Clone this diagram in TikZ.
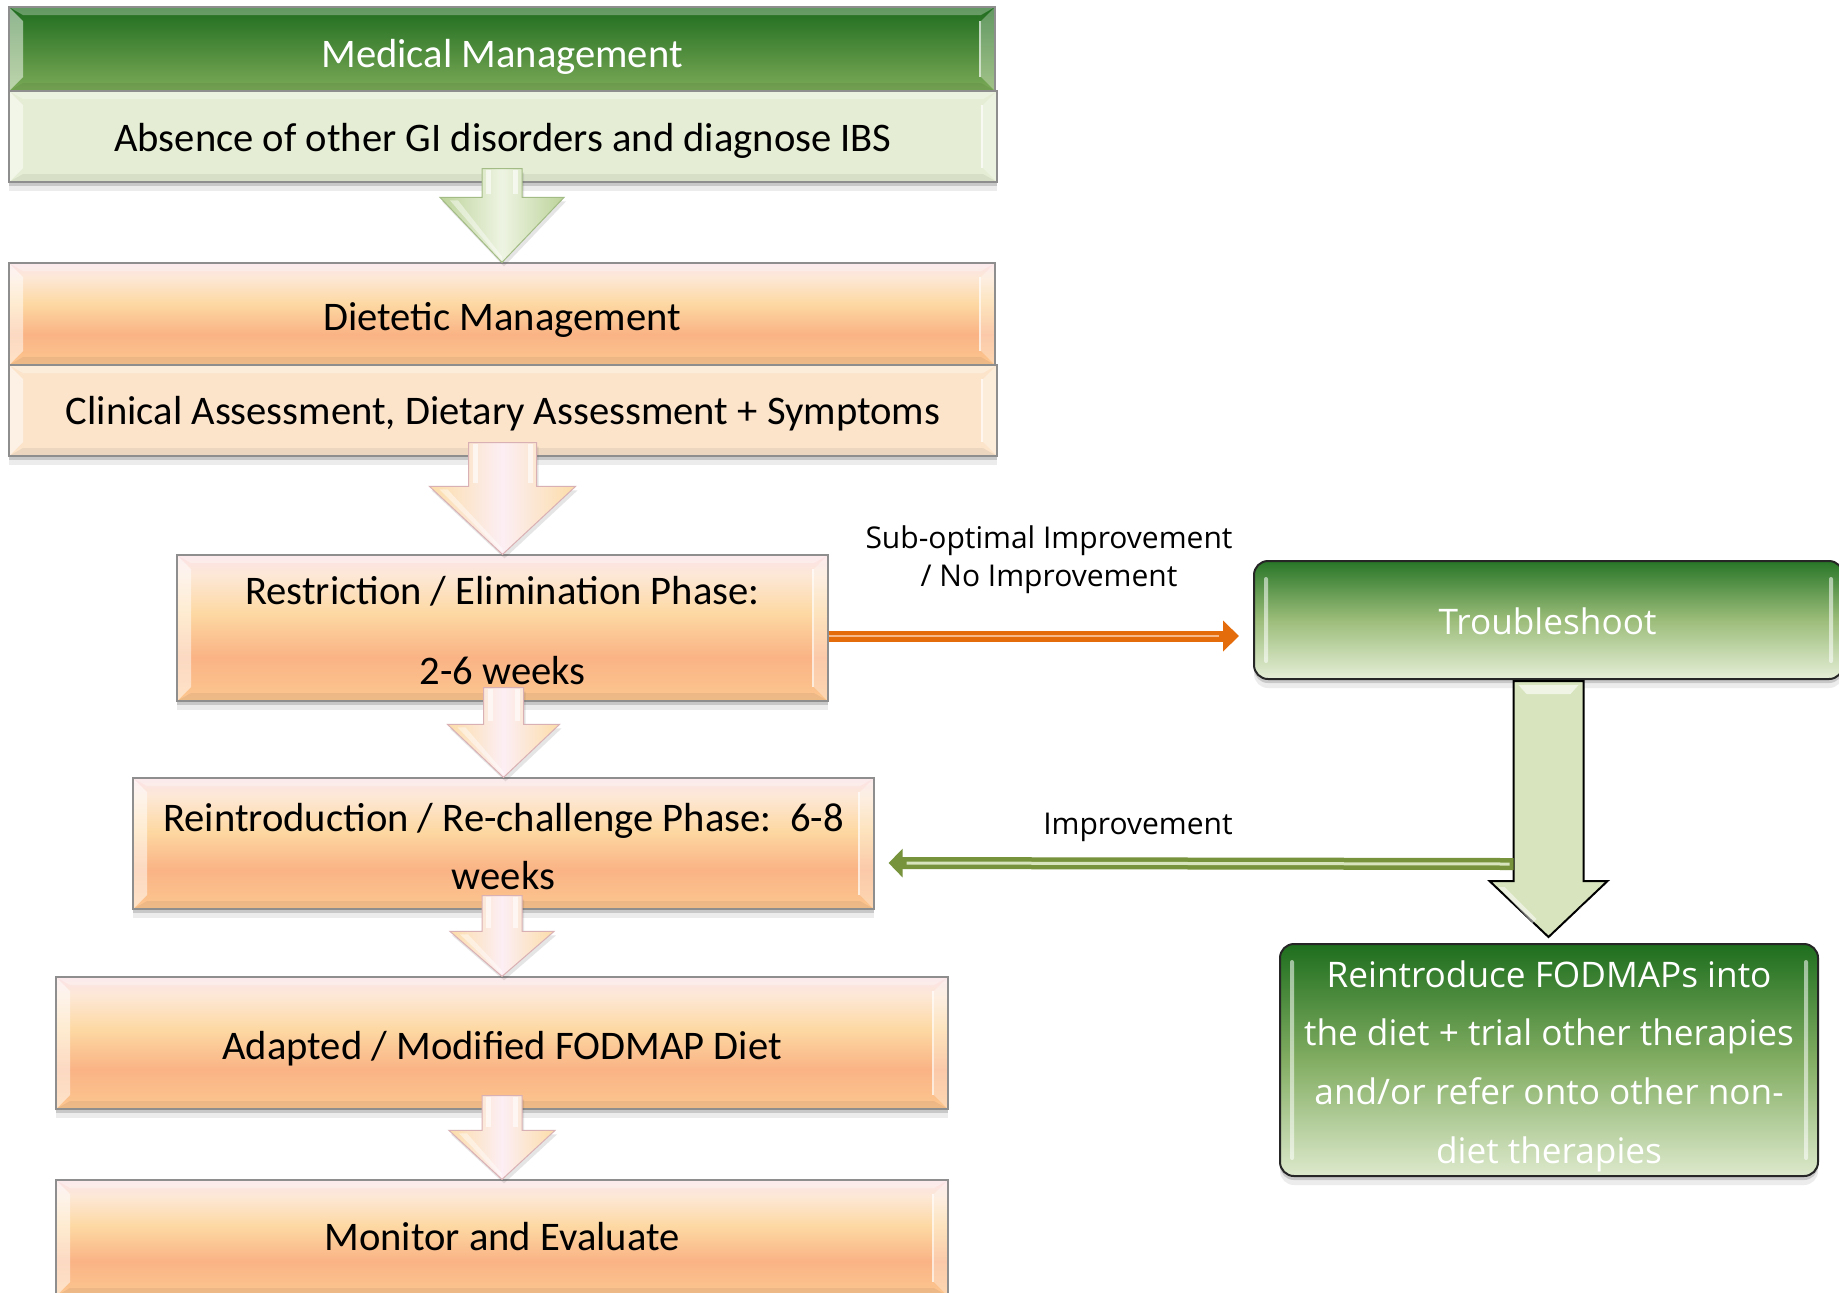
\documentclass[tikz,border=0pt]{standalone}
\usepackage{fontspec}
\setmainfont{Carlito}
\newfontfamily\segoe{Open Sans}
\usetikzlibrary{calc,shadows,arrows.meta}

\definecolor{hdrTop}{HTML}{1F6C1F}
\definecolor{hdrBot}{HTML}{7BAA57}
\definecolor{paleGreen}{HTML}{E5EDD4}
\definecolor{peach}{HTML}{FCE4CB}
\definecolor{orBot}{HTML}{FCC790}
\definecolor{orLow}{HTML}{FAB385}
\definecolor{orMid}{HTML}{FDD8A2}
\definecolor{orHigh}{HTML}{FDE8D6}
\definecolor{orTop}{HTML}{FBE2E6}
\definecolor{boxLine}{HTML}{8E8E8E}
\definecolor{tipOrange}{HTML}{E46C0A}
\definecolor{tipOrangeLight}{HTML}{F6B98A}
\definecolor{olive}{HTML}{77933C}
\definecolor{oliveLight}{HTML}{D7E4BD}
\definecolor{arrowCream}{HTML}{FCDDA8}
\definecolor{arrowPink}{HTML}{FCEEF4}
\definecolor{arrowLine}{HTML}{D9B0B4}
\definecolor{arrowGreen}{HTML}{BCD39A}
\definecolor{arrowGreenLight}{HTML}{EEF4E2}
\definecolor{arrowGreenLine}{HTML}{A3BC85}
\definecolor{glassTop}{HTML}{287628}
\definecolor{glassMid}{HTML}{9CBD7A}
\definecolor{glassBot}{HTML}{E5EED7}
\definecolor{fodTop}{HTML}{1E6E1E}
\definecolor{fodMid}{HTML}{82AD62}
\definecolor{fodBot}{HTML}{DDE9CC}

% warm vertical gradient of the phase boxes (25bp = bottom edge, 75bp = top edge)
\pgfdeclareverticalshading{peachglow}{100bp}{color(0bp)=(orBot); color(25bp)=(orBot);
  color(40bp)=(orLow); color(55bp)=(orMid); color(68bp)=(orHigh); color(75bp)=(orTop); color(100bp)=(orTop)}

\tikzset{
  boxshadow/.style={
    drop shadow={shadow xshift=0pt, shadow yshift=-2pt, opacity=0.22, fill=black!70},
    drop shadow={shadow xshift=0pt, shadow yshift=-4.5pt, opacity=0.10, fill=black!70}},
  bevel/.style={path picture={
    \coordinate (bNW) at (path picture bounding box.north west);
    \coordinate (bNE) at (path picture bounding box.north east);
    \coordinate (bSW) at (path picture bounding box.south west);
    \coordinate (bSE) at (path picture bounding box.south east);
    \fill[white,opacity=0.5] (bNW) -- ([shift={(7pt,-7pt)}]bNW) -- ([shift={(7pt,7pt)}]bSW) -- (bSW) -- cycle;
    \fill[white,opacity=0.3] (bNE) -- ([shift={(-7pt,-7pt)}]bNE) -- ([shift={(-7pt,7pt)}]bSE) -- (bSE) -- cycle;
    \draw[white,opacity=0.7,line width=1.2pt] ([shift={(-7.5pt,-7pt)}]bNE) -- ([shift={(-7.5pt,7pt)}]bSE);
    \fill[white,opacity=0.30] (bNW) -- (bNE) -- ([shift={(-7pt,-4pt)}]bNE) -- ([shift={(7pt,-4pt)}]bNW) -- cycle;
    \fill[black,opacity=0.06] (bSW) -- (bSE) -- ([shift={(-7pt,4pt)}]bSE) -- ([shift={(7pt,4pt)}]bSW) -- cycle;
  }},
  bevelbox/.style={draw=boxLine, line width=0.6pt, inner sep=0pt, boxshadow, bevel},
  phasebox/.style={bevelbox, shade, shading=peachglow},
  glassbox/.style={draw=black!85, line width=1pt, rounded corners=7pt, inner sep=0pt, boxshadow,
    path picture={
      \coordinate (gNW) at (path picture bounding box.north west);
      \coordinate (gNE) at (path picture bounding box.north east);
      \coordinate (gSW) at (path picture bounding box.south west);
      \coordinate (gSE) at (path picture bounding box.south east);
      \fill[white,opacity=0.55,rounded corners=1pt] ([shift={(5pt,-8pt)}]gNW) rectangle ([shift={(7pt,8pt)}]gSW);
      \fill[white,opacity=0.55,rounded corners=1pt] ([shift={(-7pt,-8pt)}]gNE) rectangle ([shift={(-5pt,8pt)}]gSE);
    }},
  boxtext/.style={inner sep=0pt, align=center, font=\fontsize{20.3}{24}\selectfont},
  glasstext/.style={inner sep=0pt, align=center, text=white, font=\segoe\fontsize{17.6}{29.3}\selectfont},
  arrowshadow/.style={drop shadow={shadow xshift=1pt, shadow yshift=-2pt, opacity=0.14, fill=black!70}},
  creamarrow/.style={arrowshadow, left color=arrowCream, right color=arrowCream, middle color=arrowPink,
    draw=arrowLine, line width=0.5pt},
  greenarrow/.style={arrowshadow, left color=arrowGreen, right color=arrowGreen, middle color=arrowGreenLight,
    draw=arrowGreenLine, line width=0.5pt},
  shine/.style={fill=white, opacity=0.6},
  lbl/.style={font=\segoe\fontsize{15}{19}\selectfont, align=center, inner sep=0pt},
}

% block arrow pointing down from node #1 into node #2
% #3 shaft half width, #4 head half width, #5 head length, #6 style
\newcommand\stepArrow[6]{%
  \path[#6] ($(#2.north |- #1.south)+(-#3,-14)$) -- ($(#2.north)+(-#3,-#5)$) -- ($(#2.north)+(-#4,-#5)$)
    -- (#2.north) -- ($(#2.north)+(#4,-#5)$) -- ($(#2.north)+(#3,-#5)$)
    -- ($(#2.north |- #1.south)+(#3,-14)$) -- cycle;
  \fill[shine] ($(#2.north |- #1.south)+(-#3+4,-13)$) rectangle ($(#2.north)+(-#3+9,-#5-3)$);
  \fill[shine] ($(#2.north |- #1.south)+(#3-9,-13)$) rectangle ($(#2.north)+(#3-4,-#5-3)$);
  \fill[shine, opacity=0.45] ($(#2.north)+(-#4+10,-#5+3)$) -- ($(#2.north)+(-#4+18,-#5+3)$)
    -- ($(#2.north)+(0,-6)$) -- ($(#2.north)+(0,-2)$) -- cycle;}

\begin{document}
\begin{tikzpicture}[x=0.5pt,y=-0.5pt]
\useasboundingbox (0,0) rectangle (1839,1292);
\fill[white] (0,0) rectangle (1839,1292);

% left column boxes
\node[bevelbox, top color=hdrTop, bottom color=hdrBot, minimum width=493pt, minimum height=42pt] (med) at (502,49) {};
\node[bevelbox, fill=paleGreen, minimum width=494pt, minimum height=45.5pt] (abs) at (503,136.5) {};
\node[phasebox, minimum width=493pt, minimum height=51pt] (diet) at (502,314) {};
\node[bevelbox, fill=peach, minimum width=494pt, minimum height=45.5pt] (clin) at (503,410.5) {};
\node[phasebox, minimum width=325.5pt, minimum height=73pt] (restr) at (502.5,628) {};
\node[phasebox, minimum width=370.5pt, minimum height=65.5pt] (reint) at (503.5,843.5) {};
\node[phasebox, minimum width=446pt, minimum height=66pt] (adapt) at (502,1043) {};
\node[phasebox, minimum width=446pt, minimum height=58pt] (monit) at (502,1238) {};

% left column texts
\node[boxtext, text=white] (med-t) at ($(med)+(0,8)$) {Medical Management};
\node[boxtext] (abs-t) at ($(abs)+(0,4.5)$) {Absence of other GI disorders and diagnose IBS};
\node[boxtext] (diet-t) at ($(diet)+(0,6)$) {Dietetic Management};
\node[boxtext] (clin-t) at ($(clin)+(0,3.5)$) {Clinical Assessment, Dietary Assessment + Symptoms};
\node[boxtext] (restr-t) at ($(restr)+(0,2.5)$) {Restriction / Elimination Phase:\\[16pt]2-6 weeks};
\node[boxtext, font=\fontsize{20.3}{29}\selectfont] (reint-t) at ($(reint)+(0,3.5)$) {Reintroduction / Re-challenge Phase:\ \ 6-8\\weeks};
\node[boxtext] (adapt-t) at ($(adapt)+(0,6)$) {Adapted / Modified FODMAP Diet};
\node[boxtext] (monit-t) at ($(monit)+(0,-1)$) {Monitor and Evaluate};

\stepArrow{abs}{diet}{20}{62}{65}{greenarrow}
\stepArrow{clin}{restr}{34}{73}{68}{creamarrow}
\stepArrow{restr}{reint}{20}{56}{53}{creamarrow}
\stepArrow{reint}{adapt}{20}{52}{45}{creamarrow}
\stepArrow{adapt}{monit}{20}{53}{49}{creamarrow}

% right column
\node[glassbox, top color=glassTop, bottom color=glassBot, middle color=glassMid, minimum width=294.5pt, minimum height=59pt] (trouble) at (1548.5,620) {};
\node[glassbox, top color=fodTop, bottom color=fodBot, middle color=fodMid, minimum width=269pt, minimum height=116pt] (fod) at (1549,1060) {};
\node[glasstext] (trouble-t) at ($(trouble)+(-1,1.5)$) {Troubleshoot};
\node[glasstext] (fod-t) at ($(fod)+(0,6)$)
  {Reintroduce FODMAPs into\\the diet + trial other therapies\\and/or refer onto other non-\\diet therapies};

% wide arrow from Troubleshoot down to the therapies box
\coordinate (dtip) at ($(trouble.south |- fod.north)+(0,-6)$);
\coordinate (dshaftL) at ($(trouble.south)+(-35,184)$);
\path[fill=oliveLight, draw=black, line width=1pt, line join=miter]
  ($(trouble.south)+(-35,1)$) -- ($(trouble.south)+(35,1)$) -- ($(dtip)+(35,-56)$) -- ($(dtip)+(59,-56)$)
  -- (dtip) -- ($(dtip)+(-59,-56)$) -- ($(dtip)+(-35,-56)$) -- cycle;
\fill[white,opacity=0.6] ($(trouble.south)+(-30,5)$) -- ($(trouble.south)+(30,5)$) -- ($(trouble.south)+(22,14)$) -- ($(trouble.south)+(-22,14)$) -- cycle;
\fill[white,opacity=0.5] ($(dtip)+(-50,-50)$) -- ($(dtip)+(-44,-50)$) -- ($(dtip)+(-12,-18)$) -- ($(dtip)+(-16,-14)$) -- cycle;
\fill[white,opacity=0.5] ($(dtip)+(30,-28)$) -- ($(dtip)+(46,-40)$) -- ($(dtip)+(44,-36)$) -- cycle;

% feedback connectors
\draw[line width=5.5pt, tipOrange, -{Triangle[width=15pt,length=8pt]}]
  ($(restr.east)+(0,8)$) -- ($(trouble.west)+(-14,16)$);
\draw[line width=1.4pt, tipOrangeLight, shorten >=10pt]
  ($(restr.east)+(0,8)$) -- ($(trouble.west)+(-14,16)$);
\draw[line width=6pt, olive, -{Triangle[width=14pt,length=7pt]}]
  (dshaftL) -- ($(reint.east)+(14,19.5)$);
\draw[line width=1.5pt, oliveLight, shorten >=9pt, shorten <=2pt]
  (dshaftL) -- ($(reint.east)+(14,19.5)$);

\node[lbl] (lblsub) at (1049,559.5) {Sub-optimal Improvement\\/ No Improvement};
\node[lbl] (lblimp) at (1138,827.5) {Improvement};
\end{tikzpicture}
\end{document}
